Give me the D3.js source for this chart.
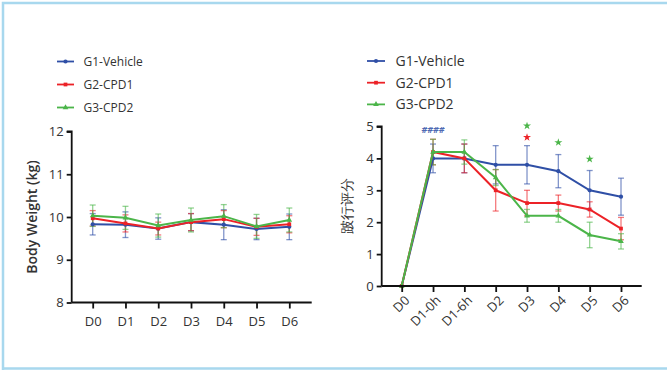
<!DOCTYPE html>
<head>
  <meta charset="utf-8" />
  <script src="https://d3js.org/d3.v7.min.js"></script>
  <style>
    body { margin: 0; background: #fff; }
    text { font-family: "Open Sans", "Noto Sans", sans-serif; fill: #333; }
  </style>
</head>
<body>
  <div id="chart"></div>
  <script>
    // donnees
    const groups = ["G1-Vehicle", "G2-CPD1", "G3-CPD2"];
    const colors = ["#2f4fa6", "#ec2227", "#4bb549"];
    const symbols = [d3.symbolCircle, d3.symbolSquare, d3.symbolTriangle];

    // poids
    const daysW = ["D0", "D1", "D2", "D3", "D4", "D5", "D6"];
    const weightG1 = [9.83, 9.82, 9.73, 9.88, 9.82, 9.72, 9.77];
    const weightG2 = [9.97, 9.85, 9.73, 9.88, 9.95, 9.77, 9.83];
    const weightG3 = [10.03, 9.98, 9.80, 9.93, 10.02, 9.78, 9.93];
    const weightErrG1 = [0.25, 0.30, 0.25, 0.20, 0.35, 0.25, 0.30];
    const weightErrG2 = [0.18, 0.20, 0.15, 0.20, 0.20, 0.20, 0.20];
    const weightErrG3 = [0.25, 0.27, 0.27, 0.28, 0.27, 0.28, 0.28];
    const weightTicks = [8, 9, 10, 11, 12];

    // score de boiterie
    const daysS = ["D0", "D1-0h", "D1-6h", "D2", "D3", "D4", "D5", "D6"];
    const scoreG1 = [0, 4.0, 4.0, 3.8, 3.8, 3.6, 3.0, 2.8];
    const scoreG2 = [0, 4.2, 4.0, 3.0, 2.6, 2.6, 2.4, 1.8];
    const scoreG3 = [0, 4.2, 4.2, 3.4, 2.2, 2.2, 1.6, 1.4];
    const scoreErrG1 = [0, 0.45, 0.45, 0.6, 0.6, 0.52, 0.62, 0.58];
    const scoreErrG2 = [0, 0.4, 0.45, 0.65, 0.4, 0.25, 0.24, 0.35];
    const scoreErrG3 = [0, 0.4, 0.38, 0.25, 0.2, 0.2, 0.4, 0.24];
    const scoreTicks = [0, 1, 2, 3, 4, 5];
    // significativite: [jour, valeur, groupe]
    const hashMark = ["D1-0h", 4.88, "####", 0];
    const starMarks = [["D3", 5.02, 2], ["D3", 4.66, 1], ["D4", 4.5, 2], ["D5", 3.98, 2]];

    const width = 667, height = 370;
    const svg = d3.select("#chart").append("svg")
      .attr("width", width).attr("height", height);

    // cadre bleu
    svg.append("path")
      .attr("d", "M3,372 L3,3 L672,3 M3,368.5 L672,368.5")
      .attr("fill", "none").attr("stroke", "#a8d8ee").attr("stroke-width", 2.5);

    function drawLegend(x, y, dy, size) {
      const g = svg.append("g").attr("transform", "translate(" + x + "," + y + ")");
      groups.forEach(function (name, i) {
        const row = g.append("g").attr("transform", "translate(0," + (i * dy) + ")");
        row.append("line").attr("x1", 0).attr("x2", size === 12 ? 17 : 18)
          .attr("stroke", colors[i]).attr("stroke-width", 1.8);
        row.append("path").attr("d", d3.symbol(symbols[i], 14)())
          .attr("transform", "translate(" + (size === 12 ? 8.5 : 9) + ",0)")
          .attr("fill", colors[i]);
        row.append("text").attr("x", size === 12 ? 26.5 : 28.5).attr("dy", "0.35em")
          .style("font-size", size + "px").text(name);
      });
    }

    function drawPlot(o) {
      const x = d3.scalePoint().domain(o.days).range([o.x0, o.x1]);
      const y = d3.scaleLinear().domain(o.domain).range([o.yb, o.yt]);
      const g = svg.append("g");

      // barres d'erreur
      o.series.forEach(function (vals, i) {
        const errs = o.errors[i];
        const pts = vals.map(function (v, j) { return { day: o.days[j], v: v, e: errs[j] }; });
        const eb = g.append("g").attr("stroke", colors[i]).attr("stroke-opacity", 0.6)
          .attr("stroke-width", 1.3);
        pts.filter(function (d) { return d.e > 0; }).forEach(function (d) {
          const cx = x(d.day);
          eb.append("line").attr("x1", cx).attr("x2", cx).attr("y1", y(d.v - d.e)).attr("y2", y(d.v + d.e));
          eb.append("line").attr("x1", cx - 3).attr("x2", cx + 3).attr("y1", y(d.v - d.e)).attr("y2", y(d.v - d.e));
          eb.append("line").attr("x1", cx - 3).attr("x2", cx + 3).attr("y1", y(d.v + d.e)).attr("y2", y(d.v + d.e));
        });
      });
      // lignes + symboles
      o.series.forEach(function (vals, i) {
        const line = d3.line().x(function (d, j) { return x(o.days[j]); }).y(function (d) { return y(d); });
        g.append("path").datum(vals).attr("d", line)
          .attr("fill", "none").attr("stroke", colors[i]).attr("stroke-width", 2);
        g.selectAll(null).data(vals).join("path")
          .attr("d", d3.symbol(symbols[i], 14)())
          .attr("transform", function (d, j) { return "translate(" + x(o.days[j]) + "," + y(d) + ")"; })
          .attr("fill", colors[i]);
      });

      // axes
      const ya = svg.append("g").attr("transform", "translate(" + o.ax + ",0)")
        .call(d3.axisLeft(y).tickValues(o.ticks).tickSize(5).tickPadding(3).tickFormat(d3.format("d")));
      ya.select(".domain").attr("d", "M-5," + o.yt + "H0V" + o.yb);
      const xa = svg.append("g").attr("transform", "translate(0," + o.yb + ")")
        .call(d3.axisBottom(x).tickSize(6).tickPadding(8));
      xa.select(".domain").attr("d", "M" + o.ax + ",0H" + o.axEnd);
      [ya, xa].forEach(function (a) {
        a.selectAll("path,line").attr("stroke", "#111").attr("stroke-width", 1.8);
        a.selectAll("text").style("font-size", "13px").attr("fill", "#333");
      });
      if (o.rotate) {
        xa.selectAll("text").attr("text-anchor", "end")
          .attr("transform", "translate(5,12) rotate(-45)").attr("dy", "0.35em").attr("y", 0).attr("x", 0);
      }

      svg.append("text")
        .attr("transform", "translate(" + o.labelX + "," + ((o.yt + o.yb) / 2) + ") rotate(-90)")
        .attr("text-anchor", "middle").style("font-size", "14px").style("font-weight", o.bold ? 600 : 400)
        .text(o.label);

      return { x: x, y: y };
    }

    drawLegend(57, 61.5, 23, 12);
    drawPlot({
      days: daysW, domain: [8, 12], ticks: weightTicks,
      series: [weightG1, weightG2, weightG3], errors: [weightErrG1, weightErrG2, weightErrG3],
      x0: 92.7, x1: 289.3, yb: 302.5, yt: 131.5, ax: 71.7, axEnd: 311.7,
      label: "Body Weight (kg)", labelX: 37, rotate: false, bold: true
    });

    drawLegend(367, 61, 21.7, 14);
    const sc = drawPlot({
      days: daysS, domain: [0, 5], ticks: scoreTicks,
      series: [scoreG1, scoreG2, scoreG3], errors: [scoreErrG1, scoreErrG2, scoreErrG3],
      x0: 401.7, x1: 621, yb: 286, yt: 126.5, ax: 381.7, axEnd: 641.7,
      label: "跛行评分", labelX: 352, rotate: true, bold: false
    });

    svg.append("text")
      .attr("x", sc.x(hashMark[0])).attr("y", sc.y(hashMark[1]))
      .attr("text-anchor", "middle").attr("dy", "0.35em")
      .style("font-size", "9px").style("font-weight", 700).style("font-style", "italic")
      .style("fill", colors[hashMark[3]]).style("opacity", 0.85)
      .text(hashMark[2]);

    // etoiles
    svg.append("g").selectAll("path").data(starMarks).join("path")
      .attr("d", d3.symbol(d3.symbolStar, 20)())
      .attr("transform", function (d) { return "translate(" + sc.x(d[0]) + "," + sc.y(d[1]) + ")"; })
      .attr("fill", function (d) { return colors[d[2]]; });
  </script>
</body>
